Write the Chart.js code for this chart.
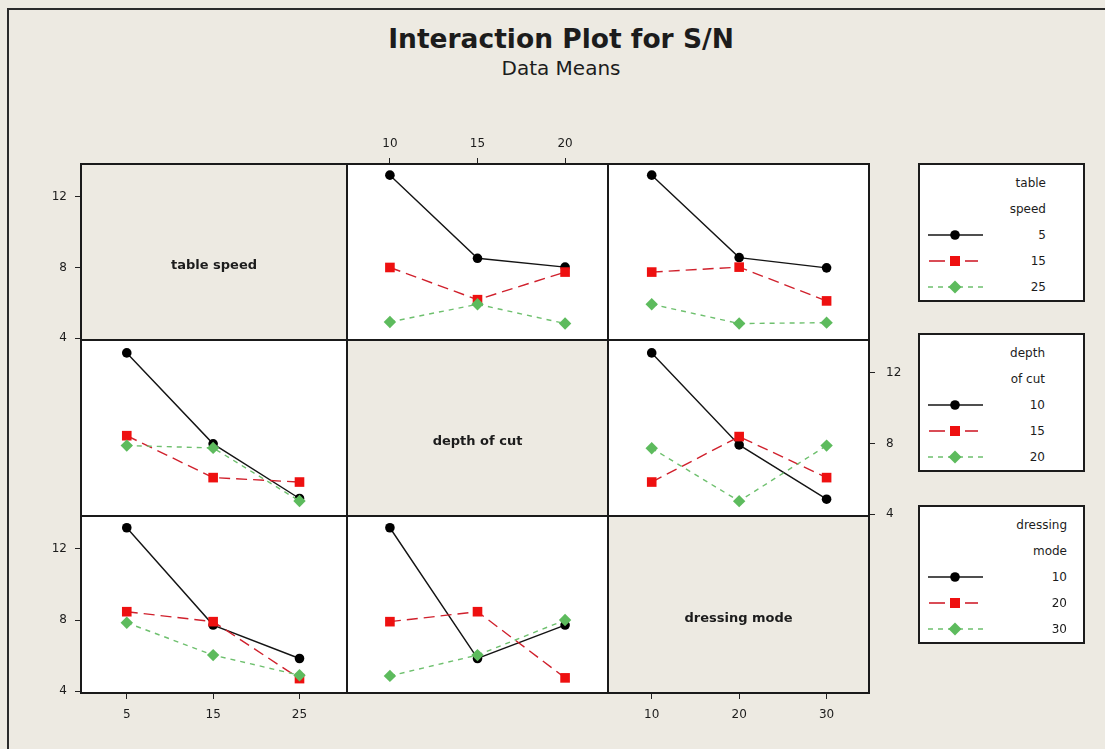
<!DOCTYPE html>
<html>
<head>
<meta charset="utf-8">
<title>Interaction Plot for S/N</title>
<script src="https://cdn.jsdelivr.net/npm/chart.js@4.4.1/dist/chart.umd.min.js"></script>
<style>
  html, body { margin: 0; padding: 0; background: #EDEAE2; }
  #page { position: relative; width: 1105px; height: 749px; overflow: hidden; background: #EDEAE2;
          font-family: "DejaVu Sans", Verdana, sans-serif; color: #1c1c1c; }
  .frame { position: absolute; left: 7px; top: 8px; width: 1300px; height: 900px;
           border-left: 2px solid #2a2a2a; border-top: 2px solid #2a2a2a; }
  .title { position: absolute; left: 311px; width: 500px; text-align: center; white-space: nowrap; }
  .diag { position: absolute; text-align: center; font-weight: bold; font-size: 13px; white-space: nowrap; }
  .legend { position: absolute; left: 918px; width: 163px; background: #fff; border: 2px solid #1c1c1c; }
  .legend .t { position: absolute; font-size: 12px; line-height: 14px; text-align: right; white-space: nowrap; }
  .legend svg { position: absolute; left: 7px; }
  canvas { position: absolute; }
</style>
</head>
<body>
<div id="page">
  <div class="frame"></div>
  <div class="title" style="top:23px;font-size:26.5px;font-weight:bold;line-height:32px;">Interaction Plot for S/N</div>
  <div class="title" style="top:57px;font-size:20px;line-height:22px;">Data Means</div>
</div>
<script>
// factor levels
const tableSpeedLevels = [5, 15, 25];
const depthLevels = [10, 15, 20];
const dressingLevels = [10, 20, 30];
const yTickValues = [4, 8, 12];

// mean S/N: one array per trace level, values in order of the x-factor levels
// table speed traces against depth of cut
const ts5_byDepth  = [13.22, 8.52, 8.02];
const ts15_byDepth = [8.00, 6.18, 7.74];
const ts25_byDepth = [4.92, 5.92, 4.83];
// table speed traces against dressing mode
const ts5_byDress  = [13.22, 8.56, 7.98];
const ts15_byDress = [7.74, 8.02, 6.11];
const ts25_byDress = [5.92, 4.83, 4.88];
// depth of cut traces against table speed
const d10_byTs = [13.12, 7.98, 4.89];
const d15_byTs = [8.44, 6.07, 5.82];
const d20_byTs = [7.88, 7.75, 4.75];
// depth of cut traces against dressing mode
const d10_byDress = [13.12, 7.92, 4.85];
const d15_byDress = [5.82, 8.39, 6.07];
const d20_byDress = [7.73, 4.74, 7.88];
// dressing mode traces against table speed
const m10_byTs = [13.19, 7.72, 5.84];
const m20_byTs = [8.47, 7.91, 4.71];
const m30_byTs = [7.85, 6.03, 4.90];
// dressing mode traces against depth of cut
const m10_byDepth = [13.19, 5.84, 7.72];
const m20_byDepth = [7.91, 8.47, 4.75];
const m30_byDepth = [4.86, 6.03, 8.00];

const FONT = '"DejaVu Sans", Verdana, sans-serif';
const BG = '#EDEAE2';
const PAD = 44;

// grid of panels
const colX = [81, 347, 608, 869];
const rowY = [164, 340, 516, 693];
const colRange = [[-0.3, 30.5], [7.55, 22.45], [5.0, 34.85]];
const colLevels = [tableSpeedLevels, depthLevels, dressingLevels];
const Y_MIN = 3.9, Y_MAX = 13.85;

const traceStyles = [
  { borderColor: '#141414', pointBackgroundColor: '#000', pointBorderColor: '#000', pointStyle: 'circle',
    pointRadius: 4.8, borderDash: [], borderWidth: 1.4, order: 3 },
  { borderColor: '#D0202C', pointBackgroundColor: '#EE1010', pointBorderColor: '#EE1010', pointStyle: 'rect',
    pointRadius: 6.8, borderDash: [11, 6], borderWidth: 1.4, order: 2 },
  { borderColor: '#6EC06E', pointBackgroundColor: '#5DBB5D', pointBorderColor: '#5DBB5D', pointStyle: 'rectRot',
    pointRadius: 6.2, borderDash: [5, 5], borderWidth: 1.4, order: 1 }
];

const panelFrame = {
  id: 'panelFrame',
  beforeDraw(chart, args, o) {
    const a = chart.chartArea, ctx = chart.ctx;
    ctx.save();
    ctx.fillStyle = o.fill;
    ctx.fillRect(a.left, a.top, a.right - a.left, a.bottom - a.top);
    ctx.restore();
  },
  afterDraw(chart) {
    const a = chart.chartArea, ctx = chart.ctx;
    ctx.save();
    ctx.strokeStyle = '#1a1a1a';
    ctx.lineWidth = 2;
    ctx.strokeRect(a.left, a.top, a.right - a.left, a.bottom - a.top);
    ctx.restore();
  }
};

function axisCommon(pad) {
  return {
    grid: { display: true, drawOnChartArea: false, drawTicks: true, tickLength: 6, color: '#222', lineWidth: 1 },
    border: { display: false },
    ticks: { color: '#1c1c1c', font: { family: FONT, size: 12 }, padding: pad, autoSkip: false, maxRotation: 0 }
  };
}

function makePanel(row, col, traces, opts) {
  const page = document.getElementById('page');
  const x = colX[col], y = rowY[row];
  const w = colX[col + 1] - x, h = rowY[row + 1] - y;
  const cv = document.createElement('canvas');
  cv.width = w + 2 * PAD; cv.height = h + 2 * PAD;
  cv.style.left = (x - PAD) + 'px'; cv.style.top = (y - PAD) + 'px';
  cv.style.width = cv.width + 'px'; cv.style.height = cv.height + 'px';
  page.appendChild(cv);

  const levels = colLevels[col];
  const datasets = traces.map((vals, i) => Object.assign({
    data: vals.map((v, k) => ({ x: levels[k], y: v })),
    fill: false, tension: 0, pointBorderWidth: 0, clip: false
  }, traceStyles[i]));

  const xPos = opts.xAxis || null, yPos = opts.yAxis || null;
  const xs = Object.assign(axisCommon(xPos === 'top' ? 7 : 9), {
    type: 'linear', position: xPos || 'bottom', display: !!xPos,
    min: colRange[col][0], max: colRange[col][1],
    afterBuildTicks: s => { s.ticks = levels.map(v => ({ value: v })); },
    afterFit: s => { s.height = xPos ? PAD : 0; }
  });
  const ys = Object.assign(axisCommon(yPos === 'right' ? 11 : 8), {
    type: 'linear', position: yPos || 'left', display: !!yPos,
    min: Y_MIN, max: Y_MAX,
    afterBuildTicks: s => { s.ticks = yTickValues.map(v => ({ value: v })); },
    afterFit: s => { s.width = yPos ? PAD : 0; }
  });

  new Chart(cv, {
    type: 'line',
    data: { datasets },
    options: {
      responsive: false, animation: false, events: [],
      layout: { padding: {
        left: yPos === 'left' ? 0 : PAD, right: yPos === 'right' ? 0 : PAD,
        top: xPos === 'top' ? 0 : PAD, bottom: xPos === 'bottom' ? 0 : PAD } },
      scales: { x: xs, y: ys },
      plugins: { legend: { display: false }, tooltip: { enabled: false },
                 panelFrame: { fill: opts.fill || '#ffffff' } }
    },
    plugins: [panelFrame]
  });

  if (opts.label) {
    const d = document.createElement('div');
    d.className = 'diag';
    d.textContent = opts.label;
    d.style.left = x + 'px'; d.style.width = w + 'px';
    d.style.top = (y + h / 2 + 13 - 9) + 'px'; d.style.lineHeight = '18px';
    page.appendChild(d);
  }
}

// row 1: table speed traces
makePanel(0, 0, [], { yAxis: 'left', fill: BG, label: 'table speed' });
makePanel(0, 1, [ts5_byDepth, ts15_byDepth, ts25_byDepth], { xAxis: 'top' });
makePanel(0, 2, [ts5_byDress, ts15_byDress, ts25_byDress], {});
// row 2: depth of cut traces
makePanel(1, 0, [d10_byTs, d15_byTs, d20_byTs], {});
makePanel(1, 1, [], { fill: BG, label: 'depth of cut' });
makePanel(1, 2, [d10_byDress, d15_byDress, d20_byDress], { yAxis: 'right' });
// row 3: dressing mode traces
makePanel(2, 0, [m10_byTs, m20_byTs, m30_byTs], { yAxis: 'left', xAxis: 'bottom' });
makePanel(2, 1, [m10_byDepth, m20_byDepth, m30_byDepth], {});
makePanel(2, 2, [], { xAxis: 'bottom', fill: BG, label: 'dressing mode' });

// legends, one per trace factor
const legendTitles = [['table', 'speed'], ['depth', 'of cut'], ['dressing', 'mode']];
const legendValues = [tableSpeedLevels, depthLevels, dressingLevels];
const legendTops = [163, 333, 505];
const legendRight = [37, 38, 16];

function sampleSvg(i) {
  const s = traceStyles[i];
  const dash = s.borderDash.length ? `stroke-dasharray="${s.borderDash.join(' ')}"` : '';
  let marker;
  if (i === 0) marker = `<circle cx="28" cy="7" r="4.8" fill="#000"/>`;
  else if (i === 1) marker = `<rect x="23" y="2" width="10" height="10" fill="#EE1010"/>`;
  else marker = `<polygon points="28,0.5 34.5,7 28,13.5 21.5,7" fill="#5DBB5D"/>`;
  const line = i === 1
    ? `<line x1="2" y1="7" x2="18" y2="7" stroke="${s.borderColor}" stroke-width="1.6"/><line x1="38" y1="7" x2="51" y2="7" stroke="${s.borderColor}" stroke-width="1.6"/>`
    : `<line x1="1" y1="7" x2="56" y2="7" stroke="${s.borderColor}" stroke-width="1.6" ${dash}/>`;
  return `<svg width="58" height="14" viewBox="0 0 58 14">${line}${marker}</svg>`;
}

legendTitles.forEach((title, b) => {
  const box = document.createElement('div');
  box.className = 'legend';
  box.style.top = legendTops[b] + 'px';
  box.style.height = '135px';
  const rowsY = [18, 44, 70, 96, 122];
  let html = '';
  title.forEach((t, k) => {
    html += `<div class="t" style="right:${legendRight[b]}px;top:${rowsY[k] - 7}px;">${t}</div>`;
  });
  legendValues[b].forEach((v, k) => {
    html += `<div class="t" style="right:${legendRight[b]}px;top:${rowsY[k + 2] - 7}px;">${v}</div>`;
    html += sampleSvg(k).replace('<svg ', `<svg style="top:${rowsY[k + 2] - 7}px" `);
  });
  box.innerHTML = html;
  document.getElementById('page').appendChild(box);
});
</script>
</body>
</html>
